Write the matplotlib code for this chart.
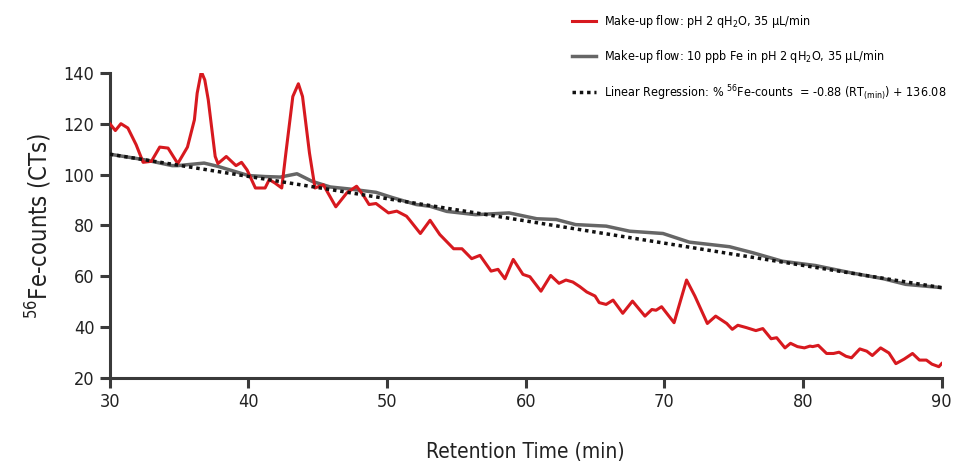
import matplotlib
matplotlib.use("Agg")
import matplotlib.pyplot as plt

plt.rcParams['font.family'] = ['DejaVu Sans']
plt.rcParams['font.stretch'] = 'condensed'
plt.rcParams['mathtext.fontset'] = 'custom'
plt.rcParams['mathtext.rm'] = 'DejaVu Sans:stretch=condensed'
plt.rcParams['mathtext.it'] = 'DejaVu Sans:italic:stretch=condensed'
plt.rcParams['mathtext.bf'] = 'DejaVu Sans:bold:stretch=condensed'

# red trace: make-up flow pH 2 qH2O
red_x = [30.0, 30.4, 30.8, 31.3, 31.9, 32.4, 33.0, 33.6, 34.2, 34.9, 35.6, 36.1, 36.3, 36.6,
         36.85, 37.1, 37.6, 37.8, 38.4, 39.1, 39.5, 39.9, 40.5, 41.2, 41.5, 41.9, 42.4, 42.7,
         43.2, 43.6, 43.9, 44.4, 44.8, 45.4, 46.3, 47.1, 47.8, 48.3, 48.7, 49.2, 50.1, 50.7,
         51.4, 51.6, 52.4, 53.1, 53.8, 54.8, 55.4, 56.1, 56.7, 57.5, 58.0, 58.5, 59.1, 59.8,
         60.3, 61.1, 61.8, 62.4, 62.9, 63.4, 63.9, 64.4, 65.0, 65.3, 65.8, 66.3, 67.0, 67.7,
         68.6, 69.1, 69.4, 69.8, 70.7, 71.6, 72.2, 73.1, 73.7, 74.5, 74.9, 75.3, 75.9, 76.6,
         77.1, 77.7, 78.1, 78.7, 79.1, 79.6, 80.1, 80.5, 80.7, 81.1, 81.7, 82.2, 82.6, 83.1,
         83.5, 84.1, 84.6, 85.0, 85.6, 86.2, 86.7, 87.3, 87.9, 88.4, 88.9, 89.3, 89.8, 90.0]
red_y = [120.0, 117.3, 120.0, 118.3, 111.7, 104.8, 105.2, 110.8, 110.4, 104.3, 110.8, 121.5, 132.0, 140.5,
         137.2, 129.4, 107.1, 104.3, 107.1, 103.5, 104.8, 101.8, 94.7, 94.7, 98.0, 96.7, 94.7, 108.5,
         130.7, 135.7, 130.7, 108.5, 94.7, 96.0, 87.3, 92.8, 95.4, 91.7, 88.2, 88.6, 84.9, 85.6,
         83.6, 82.3, 76.8, 82.0, 76.4, 70.8, 70.8, 66.9, 68.2, 62.0, 62.7, 59.0, 66.6, 60.7,
         59.8, 54.1, 60.3, 57.2, 58.5, 57.7, 55.9, 53.8, 52.2, 49.6, 48.9, 50.6, 45.4, 50.2,
         44.3, 46.9, 46.6, 48.0, 41.7, 58.5, 52.2, 41.4, 44.3, 41.4, 39.1, 40.7, 39.8, 38.6,
         39.4, 35.4, 35.8, 31.8, 33.6, 32.3, 31.8, 32.5, 32.3, 32.8, 29.6, 29.6, 30.1, 28.5,
         27.9, 31.4, 30.5, 28.8, 31.8, 29.8, 25.6, 27.4, 29.6, 27.0, 27.0, 25.4, 24.4, 25.6]

# grey trace: make-up flow 10 ppb Fe in pH 2 qH2O
grey_x = [30.0, 32.5, 34.5, 34.9, 36.8, 37.8, 40.0, 41.2, 42.3, 43.5, 44.6, 45.9, 47.3, 49.2,
          50.4, 52.1, 53.1, 54.3, 56.4, 58.8, 60.8, 62.2, 63.6, 65.8, 67.5, 69.9, 71.8, 74.7,
          76.4, 78.5, 80.9, 83.4, 85.8, 87.4, 90.0]
grey_y = [108.0, 105.8, 103.5, 103.5, 104.5, 103.2, 99.6, 99.2, 99.0, 100.3, 97.3, 95.1, 94.3, 93.0,
          90.9, 88.2, 87.5, 85.5, 84.2, 84.9, 82.6, 82.3, 80.3, 79.7, 77.7, 76.8, 73.4, 71.6,
          69.2, 65.9, 64.2, 61.4, 59.0, 56.8, 55.5]

# linear regression (end points as drawn)
reg_x = [30, 90]
reg_y = [108.0, 55.5]

labels = ['Make-up flow: pH 2 qH$_2$O, 35 µL/min',
          'Make-up flow: 10 ppb Fe in pH 2 qH$_2$O, 35 µL/min',
          'Linear Regression: % $^{56}$Fe-counts  = -0.88 (RT$_{\\mathrm{(min)}}$) + 136.08']

fig = plt.figure(figsize=(9.55, 4.70), dpi=100)
ax = fig.add_axes([0.115, 0.196, 0.871, 0.649])

l1, = ax.plot(red_x, red_y, color='#d7191f', lw=2.2, solid_joinstyle='round', zorder=3)
l2, = ax.plot(grey_x, grey_y, color='#666666', lw=2.5, solid_joinstyle='round', zorder=2)
l3, = ax.plot(reg_x, reg_y, color='#111111', lw=2.5, linestyle=(0, (1, 1.1)), zorder=4)

ax.set_xlim(30, 90)
ax.set_ylim(20, 140)
ax.set_xticks([30, 40, 50, 60, 70, 80, 90])
ax.set_yticks([20, 40, 60, 80, 100, 120, 140])
for s in ['top', 'right']:
    ax.spines[s].set_visible(False)
for s in ['left', 'bottom']:
    ax.spines[s].set_color('#3a3a3a')
    ax.spines[s].set_linewidth(2.2)
ax.tick_params(direction='out', length=7, width=2.2, color='#3a3a3a', labelsize=13,
               labelcolor='#222222', pad=4)

ax.set_xlabel('Retention Time (min)', fontsize=15, color='#222222', labelpad=22)
ax.set_ylabel('$^{56}$Fe-counts (CTs)', fontsize=17, color='#222222', labelpad=7)

fig.legend([l1, l2, l3], labels, loc='upper left', bbox_to_anchor=(0.589, 0.993),
           frameon=False, fontsize=9.0, handlelength=1.9, handletextpad=0.6,
           labelspacing=1.42, borderpad=0.3)

fig.savefig('out.png', dpi=100)
